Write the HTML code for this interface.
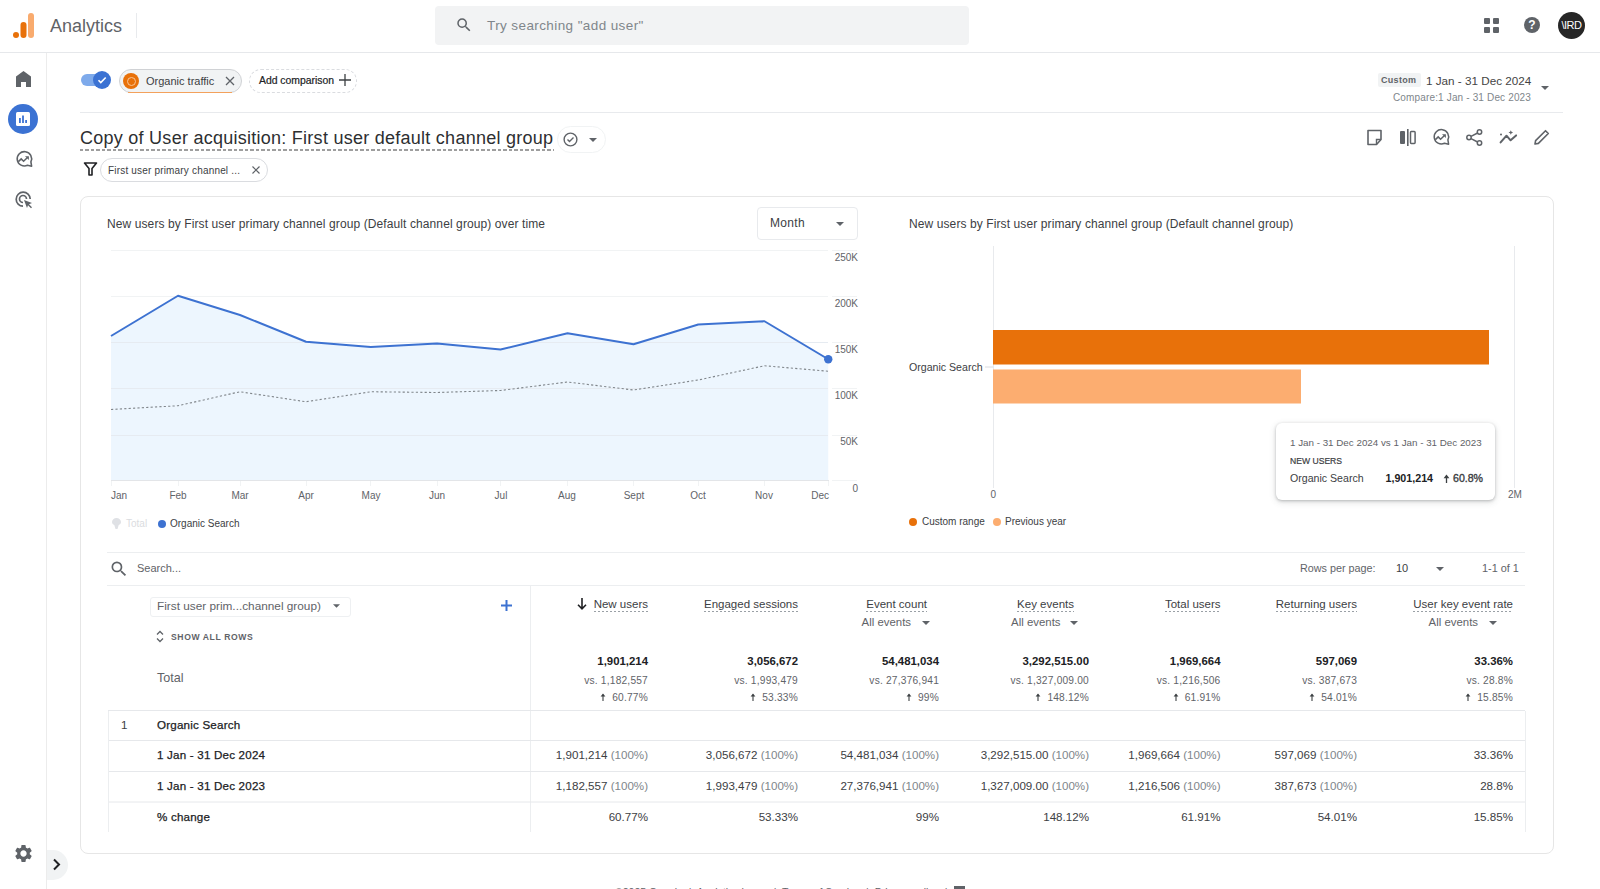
<!DOCTYPE html>
<html><head><meta charset="utf-8">
<style>
*{box-sizing:border-box;margin:0;padding:0}
html,body{width:1600px;height:889px;overflow:hidden;background:#fff;font-family:"Liberation Sans",sans-serif;color:#202124}
.a{position:absolute;white-space:nowrap}
svg{position:absolute;overflow:visible}
.hdr{position:absolute;left:0;top:0;width:1600px;height:53px;border-bottom:1px solid #e6e8eb;background:#fff}
.side{position:absolute;left:0;top:53px;width:47px;height:836px;border-right:1px solid #ececec;background:#fff}
.card{position:absolute;left:80px;top:196px;width:1474px;height:658px;border:1px solid #e6e6e6;border-radius:8px;background:#fff}
.r{text-align:right}
.g{color:#5f6368}
.ul{padding-bottom:2px;background:repeating-linear-gradient(90deg,#9aa0a6 0 2px,transparent 2px 4px) left bottom/100% 1px no-repeat}
</style></head><body>

<!-- HEADER -->
<div class="hdr">
  <svg style="left:12px;top:12px" width="24" height="27" viewBox="0 0 24 27">
    <rect x="1" y="20" width="6" height="6" rx="3" fill="#e8710a"/>
    <rect x="8.5" y="10" width="6" height="16" rx="3" fill="#e8710a"/>
    <rect x="16" y="1" width="6" height="25" rx="3" fill="#f9ab6e"/>
  </svg>
  <div class="a" style="left:50px;top:14.5px;font-size:18px;color:#5f6368;line-height:22px">Analytics</div>
  <div class="a" style="left:136px;top:13px;width:1px;height:25px;background:#e8eaed"></div>
  <div class="a" style="left:435px;top:6px;width:534px;height:39px;background:#f2f3f4;border-radius:4px"></div>
  <svg style="left:455px;top:16px" width="18" height="18" viewBox="0 0 24 24"><path fill="#5f6368" d="M15.5 14h-.79l-.28-.27A6.47 6.47 0 0 0 16 9.5 6.5 6.5 0 1 0 9.5 16c1.61 0 3.09-.59 4.23-1.57l.27.28v.79l5 4.99L20.49 19l-4.99-5zm-6 0C7.01 14 5 11.99 5 9.5S7.01 5 9.5 5 14 7.01 14 9.5 11.99 14 9.5 14z"/></svg>
  <div class="a" style="left:487px;top:18px;font-size:13.5px;color:#80868b;line-height:16px;letter-spacing:.4px">Try searching "add user"</div>
  <!-- apps -->
  <div class="a" style="left:1484px;top:18px;width:6px;height:6px;background:#5f6368;border-radius:1px"></div>
  <div class="a" style="left:1493px;top:18px;width:6px;height:6px;background:#5f6368;border-radius:1px"></div>
  <div class="a" style="left:1484px;top:27px;width:6px;height:6px;background:#5f6368;border-radius:1px"></div>
  <div class="a" style="left:1493px;top:27px;width:6px;height:6px;background:#5f6368;border-radius:1px"></div>
  <div class="a" style="left:1524px;top:17px;width:16px;height:16px;border-radius:50%;background:#5f6368;color:#fff;font-size:12px;font-weight:bold;text-align:center;line-height:16px">?</div>
  <div class="a" style="left:1558px;top:12px;width:27px;height:27px;border-radius:50%;background:#262626;color:#fff;font-size:11px;text-align:center;line-height:27px;letter-spacing:-0.5px">\IRD</div>
</div>

<!-- SIDEBAR -->
<div class="side"></div>
<svg style="left:16px;top:71px" width="15" height="16" viewBox="0 0 15 16"><path fill="#5f6368" d="M7.5 0 0 5.6V16h5v-5h5v5h5V5.6z"/></svg>
<div class="a" style="left:8px;top:104px;width:30px;height:30px;border-radius:50%;background:#3b72d3"></div>
<svg style="left:16px;top:112px" width="14" height="14" viewBox="0 0 14 14"><rect x="0" y="0" width="14" height="14" rx="1.5" fill="#fff"/><rect x="3" y="6" width="1.8" height="5" fill="#3b72d3"/><rect x="6.1" y="3.5" width="1.8" height="7.5" fill="#3b72d3"/><rect x="9.2" y="8" width="1.8" height="3" fill="#3b72d3"/></svg>
<svg style="left:14.5px;top:151px" width="18" height="17" viewBox="0 0 18 17"><path d="M15.9 10.9A7.2 7.2 0 1 0 12.5 14.3L16.6 15.2z" stroke-linejoin="round" fill="none" stroke="#5f6368" stroke-width="1.6"/><path d="M3.4 10.6L6.2 7.9 8.6 10.3 12.2 6.7" fill="none" stroke="#5f6368" stroke-width="1.5"/><path d="M10 5.2h3.9v3.9z" fill="#5f6368"/></svg>
<svg style="left:15px;top:191px" width="18" height="18" viewBox="0 0 18 18"><path d="M8 15.2A7 7 0 1 1 15.2 8" fill="none" stroke="#5f6368" stroke-width="1.7"/><path d="M8 11.5A3.5 3.5 0 1 1 11.5 8" fill="none" stroke="#5f6368" stroke-width="1.7"/><path d="M9 9l8 3-3 1.2 3 3-1 1-3-3L12 17z" fill="#5f6368"/></svg>
<svg style="left:12.5px;top:842.5px" width="21" height="21" viewBox="0 0 24 24"><path fill="#5f6368" d="M19.14 12.94c.04-.3.06-.61.06-.94 0-.32-.02-.64-.07-.94l2.03-1.58a.49.49 0 0 0 .12-.61l-1.92-3.32a.488.488 0 0 0-.59-.22l-2.39.96c-.5-.38-1.03-.7-1.62-.94l-.36-2.54a.484.484 0 0 0-.48-.41h-3.84c-.24 0-.43.17-.47.41l-.36 2.54c-.59.24-1.13.57-1.62.94l-2.39-.96c-.22-.08-.47 0-.59.22L2.74 8.87c-.12.21-.08.47.12.61l2.03 1.58c-.05.3-.09.63-.09.94s.02.64.07.94l-2.03 1.58a.49.49 0 0 0-.12.61l1.92 3.32c.12.22.37.29.59.22l2.39-.96c.5.38 1.03.7 1.62.94l.36 2.54c.05.24.24.41.48.41h3.84c.24 0 .44-.17.47-.41l.36-2.54c.59-.24 1.13-.56 1.62-.94l2.39.96c.22.08.47 0 .59-.22l1.92-3.32c.12-.22.07-.47-.12-.61l-2.01-1.58zM12 15.6c-1.98 0-3.6-1.62-3.6-3.6s1.62-3.6 3.6-3.6 3.6 1.62 3.6 3.6-1.62 3.6-3.6 3.6z"/></svg>
<div class="a" style="left:47px;top:850px;width:21px;height:30px;border-radius:0 15px 15px 0;background:#f1f3f4"></div>
<svg style="left:52px;top:858px" width="10" height="13" viewBox="0 0 10 13"><path d="M2 1.5l5 5-5 5" fill="none" stroke="#202124" stroke-width="2"/></svg>

<!-- COMPARISON BAR -->
<div class="a" style="left:81px;top:74px;width:22px;height:11.5px;border-radius:6px;background:#7eaaeb"></div>
<div class="a" style="left:93px;top:71px;width:18px;height:18px;border-radius:50%;background:#3b72d3"></div>
<svg style="left:97px;top:75px" width="10" height="10" viewBox="0 0 10 10"><path d="M1.5 5.2l2.3 2.3L8.7 2.5" fill="none" stroke="#fff" stroke-width="1.6"/></svg>

<div class="a" style="left:119px;top:69px;width:123px;height:24px;border-radius:12px;background:#f1f3f4;border:1px solid #d0d2d5"></div>
<div class="a" style="left:128px;top:91.7px;width:104px;height:1.3px;background:#f3a15c"></div>
<div class="a" style="left:123px;top:73px;width:16px;height:16px;border-radius:50%;background:#e8710a"></div>
<div class="a" style="left:126.5px;top:76.5px;width:9px;height:9px;border-radius:50%;border:1.8px solid #f8c598"></div>
<div class="a" style="left:146px;top:75px;font-size:11px;color:#3c4043;line-height:12px">Organic traffic</div>
<svg style="left:225px;top:76px" width="10" height="10" viewBox="0 0 10 10"><path d="M1 1l8 8M9 1L1 9" stroke="#5f6368" stroke-width="1.3"/></svg>

<div class="a" style="left:249px;top:69px;width:108px;height:24px;border-radius:12px;border:1px dashed #dadce0"></div>
<div class="a" style="left:259px;top:75px;font-size:10.4px;color:#202124;line-height:12px;-webkit-text-stroke:.2px #202124">Add comparison</div>
<svg style="left:339px;top:74px" width="12" height="12" viewBox="0 0 12 12"><path d="M6 0v12M0 6h12" stroke="#3c4043" stroke-width="1.3"/></svg>

<div class="a" style="left:1378px;top:73px;width:43px;height:14px;background:#f1f3f4;border-radius:2px"></div>
<div class="a" style="left:1381px;top:75px;font-size:9px;font-weight:bold;color:#5f6368;line-height:10px;letter-spacing:.3px">Custom</div>
<div class="a" style="left:1426px;top:73.5px;font-size:11.7px;color:#444;line-height:14px">1 Jan - 31 Dec 2024</div>
<div class="a" style="left:1393px;top:92px;font-size:10px;color:#80868b;line-height:12px;letter-spacing:.15px">Compare:1 Jan - 31 Dec 2023</div>
<svg style="left:1541px;top:86px" width="8" height="4" viewBox="0 0 8 4"><path d="M0 0h8L4 4z" fill="#5f6368"/></svg>
<div class="a" style="left:80px;top:112px;width:1483px;height:1px;background:#e8eaed"></div>

<!-- TITLE -->
<div class="a" style="left:80px;top:128px;font-size:18px;letter-spacing:.26px;color:#2d2f31;line-height:20px">Copy of User acquisition: First user default channel group</div>
<div class="a" style="left:80px;top:149px;width:474px;height:2px;background:repeating-linear-gradient(90deg,#9e9e9e 0 3.5px,transparent 3.5px 5.5px)"></div>
<div class="a" style="left:557px;top:126px;width:49px;height:27px;border-radius:14px;border:1px solid #f1f3f4"></div>
<svg style="left:563px;top:132px" width="15" height="15" viewBox="0 0 15 15"><circle cx="7.5" cy="7.5" r="6.4" fill="none" stroke="#5f6368" stroke-width="1.4"/><path d="M4.5 7.6l2 2 4-4" fill="none" stroke="#5f6368" stroke-width="1.4"/></svg>
<svg style="left:589px;top:138px" width="8" height="4" viewBox="0 0 8 4"><path d="M0 0h8L4 4z" fill="#5f6368"/></svg>

<!-- title right icons -->
<svg style="left:1366px;top:129px" width="17" height="17" viewBox="0 0 17 17"><path d="M2 1.5h13v9l-4.5 5H2z" fill="none" stroke="#5f6368" stroke-width="1.6" stroke-linejoin="round"/><path d="M10.5 15.5v-5h4.5" fill="none" stroke="#5f6368" stroke-width="1.4"/></svg>
<svg style="left:1399px;top:129px" width="18" height="17" viewBox="0 0 18 17"><rect x="1" y="2" width="5" height="13" rx="1" fill="#5f6368"/><rect x="8" y="0" width="1.6" height="17" fill="#5f6368"/><rect x="11.5" y="2.6" width="4.6" height="11.8" rx=".8" fill="none" stroke="#5f6368" stroke-width="1.5"/></svg>
<svg style="left:1432px;top:129px" width="18" height="17" viewBox="0 0 18 17"><path d="M15.9 10.9A7.2 7.2 0 1 0 12.5 14.3L16.6 15.2z" stroke-linejoin="round" fill="none" stroke="#5f6368" stroke-width="1.5"/><path d="M3.4 10.6L6.2 7.9 8.6 10.3 12.2 6.7" fill="none" stroke="#5f6368" stroke-width="1.5"/><path d="M10 5.2h3.9v3.9z" fill="#5f6368"/></svg>
<svg style="left:1466px;top:129px" width="17" height="17" viewBox="0 0 17 17"><circle cx="13.5" cy="3" r="2.2" fill="none" stroke="#5f6368" stroke-width="1.5"/><circle cx="3" cy="8.5" r="2.2" fill="none" stroke="#5f6368" stroke-width="1.5"/><circle cx="13.5" cy="14" r="2.2" fill="none" stroke="#5f6368" stroke-width="1.5"/><path d="M5 7.3l6.6-3.3M5 9.7l6.6 3.3" stroke="#5f6368" stroke-width="1.5"/></svg>
<svg style="left:1499px;top:129px" width="19" height="17" viewBox="0 0 19 17"><path d="M1.6 13.4L7.5 6.7 11.6 11.3 17.1 6.4" fill="none" stroke="#5f6368" stroke-width="2" stroke-linecap="round" stroke-linejoin="round"/><path d="M11.8 1.2l.7 1.6 1.6.7-1.6.7-.7 1.6-.7-1.6-1.6-.7 1.6-.7z" fill="#5f6368"/><circle cx="2" cy="5.4" r="1" fill="#5f6368"/></svg>
<svg style="left:1533px;top:129px" width="17" height="17" viewBox="0 0 17 17"><path d="M2 15l.6-3.4L12.5 1.7l2.8 2.8-9.9 9.9z" fill="none" stroke="#5f6368" stroke-width="1.6" stroke-linejoin="round"/></svg>

<!-- filter chip -->
<svg style="left:84px;top:162px" width="13" height="14" viewBox="0 0 13 14"><path d="M.5 1h12L8 6.5V13H5V6.5z" fill="none" stroke="#202124" stroke-width="1.6" stroke-linejoin="round"/></svg>
<div class="a" style="left:100px;top:158px;width:168px;height:24px;border-radius:12px;border:1px solid #dadce0"></div>
<div class="a" style="left:108px;top:164.5px;font-size:10px;color:#3c4043;line-height:11px;letter-spacing:.18px">First user primary channel ...</div>
<svg style="left:252px;top:166px" width="8" height="8" viewBox="0 0 8 8"><path d="M.5.5l7 7M7.5.5l-7 7" stroke="#5f6368" stroke-width="1.2"/></svg>

<!-- CARD -->
<div class="card"></div>

<!-- LINE CHART -->
<div class="a" style="left:107px;top:217px;font-size:12px;color:#3c4043;line-height:14px;letter-spacing:.1px">New users by First user primary channel group (Default channel group) over time</div>
<div class="a" style="left:757px;top:207px;width:101px;height:33px;border:1px solid #e8eaed;border-radius:4px"></div>
<div class="a" style="left:770px;top:216px;font-size:12px;color:#3c4043;line-height:14px;letter-spacing:.3px">Month</div>
<svg style="left:836px;top:222px" width="8" height="4" viewBox="0 0 8 4"><path d="M0 0h8L4 4z" fill="#5f6368"/></svg>

<svg style="left:0;top:0" width="1600" height="889" viewBox="0 0 1600 889">
  <g stroke="#f1f3f4" stroke-width="1">
    <path d="M111 250.5H828M111 296.5H828M111 342.5H828M111 388.5H828M111 435.5H828M832 250.5H857M832 296.5H857M832 342.5H857M832 388.5H857M832 435.5H857M832 480.5H857"/>
  </g>
  <path d="M111,481 L111,336 L178,295.75 L240,315 L306,341.75 L370.75,347 L437,343.5 L500.5,349.5 L567.5,333.25 L633.5,344.25 L698.25,324.5 L764.5,321.25 L828.25,359.25 L828.25,481 Z" fill="#edf6fe"/>
  <g stroke="#e6ebf1" stroke-width="1"><path d="M111 342.5H828M111 388.5H828M111 435.5H828"/></g>
  <path d="M111 480.5H829" stroke="#e3e5e8" stroke-width="1"/>
  <g stroke="#f1f3f4" stroke-width="1"><path d="M111.5 481v5M178.5 481v5M240.5 481v5M306.5 481v5M370.5 481v5M437.5 481v5M500.5 481v5M567.5 481v5M633.5 481v5M698.5 481v5M764.5 481v5M828.5 481v5"/></g>
  <polyline points="111,409.5 178,405.75 240,391.75 306,401.75 370.75,391.75 437,392.5 500.5,390.5 567.5,382 633.5,390 698.25,380 764.5,365.75 828.25,371.25" fill="none" stroke="#80868b" stroke-width="1.1" stroke-dasharray="2.2 2.2"/>
  <polyline points="111,336 178,295.75 240,315 306,341.75 370.75,347 437,343.5 500.5,349.5 567.5,333.25 633.5,344.25 698.25,324.5 764.5,321.25 828.25,359.25" fill="none" stroke="#3d72d1" stroke-width="2" stroke-linejoin="round"/>
  <circle cx="828.25" cy="359.25" r="4.2" fill="#3d72d1"/>
  <!-- bar chart -->
  <path d="M993.5 246V488M1514.5 246V488" stroke="#e8eaed" stroke-width="1"/>
  <path d="M985 367H993" stroke="#dadce0" stroke-width="1"/>
  <rect x="993" y="330" width="496" height="34.5" fill="#e8710a"/>
  <rect x="993" y="369.5" width="308" height="34" fill="#fcad70"/>
  <path d="M107 552.5H1525M107 585.5H1525" stroke="#eceef0" stroke-width="1"/>
</svg>
<div class="a r" style="left:820px;top:252.3px;width:38px;font-size:10px;color:#5f6368;line-height:12px">250K</div>
<div class="a r" style="left:820px;top:298.3px;width:38px;font-size:10px;color:#5f6368;line-height:12px">200K</div>
<div class="a r" style="left:820px;top:344.3px;width:38px;font-size:10px;color:#5f6368;line-height:12px">150K</div>
<div class="a r" style="left:820px;top:390.3px;width:38px;font-size:10px;color:#5f6368;line-height:12px">100K</div>
<div class="a r" style="left:820px;top:436.3px;width:38px;font-size:10px;color:#5f6368;line-height:12px">50K</div>
<div class="a r" style="left:820px;top:482.5px;width:38px;font-size:10px;color:#5f6368;line-height:12px">0</div>
<div class="a" style="left:111px;top:490px;font-size:10px;color:#5f6368;line-height:12px">Jan</div>
<div class="a" style="left:158px;top:490px;width:40px;text-align:center;font-size:10px;color:#5f6368;line-height:12px">Feb</div>
<div class="a" style="left:220px;top:490px;width:40px;text-align:center;font-size:10px;color:#5f6368;line-height:12px">Mar</div>
<div class="a" style="left:286px;top:490px;width:40px;text-align:center;font-size:10px;color:#5f6368;line-height:12px">Apr</div>
<div class="a" style="left:351px;top:490px;width:40px;text-align:center;font-size:10px;color:#5f6368;line-height:12px">May</div>
<div class="a" style="left:417px;top:490px;width:40px;text-align:center;font-size:10px;color:#5f6368;line-height:12px">Jun</div>
<div class="a" style="left:481px;top:490px;width:40px;text-align:center;font-size:10px;color:#5f6368;line-height:12px">Jul</div>
<div class="a" style="left:547px;top:490px;width:40px;text-align:center;font-size:10px;color:#5f6368;line-height:12px">Aug</div>
<div class="a" style="left:614px;top:490px;width:40px;text-align:center;font-size:10px;color:#5f6368;line-height:12px">Sept</div>
<div class="a" style="left:678px;top:490px;width:40px;text-align:center;font-size:10px;color:#5f6368;line-height:12px">Oct</div>
<div class="a" style="left:744px;top:490px;width:40px;text-align:center;font-size:10px;color:#5f6368;line-height:12px">Nov</div>
<div class="a r" style="left:789px;top:490px;width:40px;font-size:10px;color:#5f6368;line-height:12px">Dec</div>
<!-- legend -->
<svg style="left:111px;top:518px" width="11" height="11" viewBox="0 0 11 11"><path d="M5.5 0C3 0 1 1.8 1 4c0 1.5 1 2.6 2.3 3.1L4.5 11h2l1.2-3.9C9 6.6 10 5.5 10 4 10 1.8 8 0 5.5 0z" fill="#dfe1e5"/></svg>
<div class="a" style="left:126px;top:518px;font-size:10px;color:#dadce0;line-height:12px">Total</div>
<div class="a" style="left:158px;top:519.5px;width:8px;height:8px;border-radius:50%;background:#3d72d1"></div>
<div class="a" style="left:170px;top:518px;font-size:10px;color:#3c4043;line-height:12px">Organic Search</div>

<!-- BAR CHART texts -->
<div class="a" style="left:909px;top:217px;font-size:12px;color:#3c4043;line-height:14px;letter-spacing:.1px">New users by First user primary channel group (Default channel group)</div>
<div class="a" style="left:909px;top:360.5px;font-size:10.6px;color:#3c4043;line-height:12px">Organic Search</div>
<div class="a" style="left:990.5px;top:489px;font-size:10px;color:#5f6368;line-height:12px">0</div>
<div class="a" style="left:1508px;top:489px;font-size:10px;color:#5f6368;line-height:12px">2M</div>
<div class="a" style="left:909px;top:518px;width:8px;height:8px;border-radius:50%;background:#e8710a"></div>
<div class="a" style="left:922px;top:516px;font-size:10px;color:#3c4043;line-height:12px">Custom range</div>
<div class="a" style="left:993px;top:518px;width:8px;height:8px;border-radius:50%;background:#fcad70"></div>
<div class="a" style="left:1005px;top:516px;font-size:10px;color:#3c4043;line-height:12px">Previous year</div>
<!-- tooltip -->
<div class="a" style="left:1276px;top:423px;width:219px;height:77px;background:#fff;border-radius:6px;box-shadow:0 1px 3px rgba(60,64,67,.3),0 2px 6px 1px rgba(60,64,67,.12)"></div>
<div class="a" style="left:1290px;top:437px;font-size:9.8px;color:#5f6368;line-height:11px">1 Jan - 31 Dec 2024 vs 1 Jan - 31 Dec 2023</div>
<div class="a" style="left:1290px;top:456px;font-size:8.6px;color:#3c4043;line-height:10px;-webkit-text-stroke:.2px #3c4043">NEW USERS</div>
<div class="a" style="left:1290px;top:472px;font-size:10.6px;color:#3c4043;line-height:12px">Organic Search</div>
<div class="a" style="left:1385.5px;top:472px;font-size:10.7px;font-weight:bold;color:#202124;line-height:12px">1,901,214</div>
<svg style="left:1443px;top:473.5px" width="7" height="9" viewBox="0 0 7 9"><path d="M3.5 9V1.8" stroke="#3c4043" stroke-width="1.3"/><path d="M.6 4.2L3.5.6l2.9 3.6z" fill="#3c4043"/></svg>
<div class="a" style="left:1453px;top:472px;font-size:10.6px;color:#3c4043;line-height:12px;letter-spacing:0px;-webkit-text-stroke:.35px #3c4043">60.8%</div>

<!-- TABLE -->
<svg style="left:108.5px;top:558.5px" width="20" height="20" viewBox="0 0 24 24"><path fill="#5f6368" d="M15.5 14h-.79l-.28-.27A6.47 6.47 0 0 0 16 9.5 6.5 6.5 0 1 0 9.5 16c1.61 0 3.09-.59 4.23-1.57l.27.28v.79l5 4.99L20.49 19l-4.99-5zm-6 0C7.01 14 5 11.99 5 9.5S7.01 5 9.5 5 14 7.01 14 9.5 11.99 14 9.5 14z"/></svg>
<div class="a" style="left:137px;top:562px;font-size:11px;color:#5f6368;line-height:13px">Search...</div>
<div class="a" style="left:1300px;top:562px;font-size:10.8px;color:#5f6368;line-height:13px">Rows per page:</div>
<div class="a" style="left:1396px;top:562px;font-size:11px;color:#3c4043;line-height:13px">10</div>
<svg style="left:1436px;top:567px" width="8" height="4" viewBox="0 0 8 4"><path d="M0 0h8L4 4z" fill="#5f6368"/></svg>
<div class="a" style="left:1482px;top:562px;font-size:10.9px;color:#5f6368;line-height:13px">1-1 of 1</div>

<div class="a" style="left:149.5px;top:596.5px;width:201px;height:20px;border:1px solid #eef0f2;border-radius:3px"></div>
<div class="a" style="left:157px;top:599px;font-size:11.8px;color:#5f6368;line-height:14px">First user prim...channel group)</div>
<svg style="left:333px;top:604px" width="7" height="4" viewBox="0 0 8 4"><path d="M0 0h8L4 4z" fill="#5f6368"/></svg>
<svg style="left:501px;top:600px" width="11" height="11" viewBox="0 0 11 11"><path d="M5.5 0v11M0 5.5h11" stroke="#3d72d1" stroke-width="2"/></svg>
<svg style="left:156px;top:630px" width="8" height="13" viewBox="0 0 8 13"><path d="M1 4.5L4 1.5l3 3M1 8.5l3 3 3-3" fill="none" stroke="#5f6368" stroke-width="1.3"/></svg>
<div class="a" style="left:171px;top:632px;font-size:8.6px;font-weight:bold;color:#5f6368;line-height:10px;letter-spacing:.6px">SHOW ALL ROWS</div>
<div class="a" style="left:157px;top:671px;font-size:12.6px;color:#5f6368;line-height:14px">Total</div>

<!-- TABLE BODY -->
<div class="a r" style="left:488px;top:597px;width:160px;font-size:11.5px;color:#3c4043;line-height:14px"><span class="ul">New users</span></div>
<div class="a r" style="left:488px;top:654px;width:160px;font-size:11.4px;font-weight:bold;color:#202124;line-height:14px">1,901,214</div>
<div class="a r" style="left:488px;top:674.5px;width:160px;font-size:10.2px;color:#5f6368;line-height:12px;letter-spacing:.2px">vs. 1,182,557</div>
<div class="a r" style="left:488px;top:691.5px;width:160px;font-size:10.2px;color:#5f6368;line-height:12px;letter-spacing:.2px"><svg style="position:relative;display:inline-block;vertical-align:0px;margin-right:6px" width="6" height="8" viewBox="0 0 6 8"><path d="M3 8V1.5" stroke="#3c4043" stroke-width="1.1"/><path d="M.6 3.4L3 .4l2.4 3z" fill="#3c4043"/></svg>60.77%</div>
<div class="a r" style="left:488px;top:748px;width:160px;font-size:11.6px;color:#3c4043;line-height:14px">1,901,214 <span style="color:#80868b">(100%)</span></div>
<div class="a r" style="left:488px;top:779px;width:160px;font-size:11.6px;color:#3c4043;line-height:14px">1,182,557 <span style="color:#80868b">(100%)</span></div>
<div class="a r" style="left:488px;top:810px;width:160px;font-size:11.6px;color:#3c4043;line-height:14px">60.77%</div>
<div class="a r" style="left:638px;top:597px;width:160px;font-size:11.5px;color:#3c4043;line-height:14px"><span class="ul">Engaged sessions</span></div>
<div class="a r" style="left:638px;top:654px;width:160px;font-size:11.4px;font-weight:bold;color:#202124;line-height:14px">3,056,672</div>
<div class="a r" style="left:638px;top:674.5px;width:160px;font-size:10.2px;color:#5f6368;line-height:12px;letter-spacing:.2px">vs. 1,993,479</div>
<div class="a r" style="left:638px;top:691.5px;width:160px;font-size:10.2px;color:#5f6368;line-height:12px;letter-spacing:.2px"><svg style="position:relative;display:inline-block;vertical-align:0px;margin-right:6px" width="6" height="8" viewBox="0 0 6 8"><path d="M3 8V1.5" stroke="#3c4043" stroke-width="1.1"/><path d="M.6 3.4L3 .4l2.4 3z" fill="#3c4043"/></svg>53.33%</div>
<div class="a r" style="left:638px;top:748px;width:160px;font-size:11.6px;color:#3c4043;line-height:14px">3,056,672 <span style="color:#80868b">(100%)</span></div>
<div class="a r" style="left:638px;top:779px;width:160px;font-size:11.6px;color:#3c4043;line-height:14px">1,993,479 <span style="color:#80868b">(100%)</span></div>
<div class="a r" style="left:638px;top:810px;width:160px;font-size:11.6px;color:#3c4043;line-height:14px">53.33%</div>
<div class="a r" style="left:767px;top:597px;width:160px;font-size:11.5px;color:#3c4043;line-height:14px"><span class="ul">Event count</span></div>
<div class="a r" style="left:751px;top:615px;width:160px;font-size:11.4px;color:#5f6368;line-height:14px">All events</div>
<svg style="left:921.6px;top:620.5px" width="8" height="4" viewBox="0 0 8 4"><path d="M0 0h8L4 4z" fill="#5f6368"/></svg>
<div class="a r" style="left:779px;top:654px;width:160px;font-size:11.4px;font-weight:bold;color:#202124;line-height:14px">54,481,034</div>
<div class="a r" style="left:779px;top:674.5px;width:160px;font-size:10.2px;color:#5f6368;line-height:12px;letter-spacing:.2px">vs. 27,376,941</div>
<div class="a r" style="left:779px;top:691.5px;width:160px;font-size:10.2px;color:#5f6368;line-height:12px;letter-spacing:.2px"><svg style="position:relative;display:inline-block;vertical-align:0px;margin-right:6px" width="6" height="8" viewBox="0 0 6 8"><path d="M3 8V1.5" stroke="#3c4043" stroke-width="1.1"/><path d="M.6 3.4L3 .4l2.4 3z" fill="#3c4043"/></svg>99%</div>
<div class="a r" style="left:779px;top:748px;width:160px;font-size:11.6px;color:#3c4043;line-height:14px">54,481,034 <span style="color:#80868b">(100%)</span></div>
<div class="a r" style="left:779px;top:779px;width:160px;font-size:11.6px;color:#3c4043;line-height:14px">27,376,941 <span style="color:#80868b">(100%)</span></div>
<div class="a r" style="left:779px;top:810px;width:160px;font-size:11.6px;color:#3c4043;line-height:14px">99%</div>
<div class="a r" style="left:914px;top:597px;width:160px;font-size:11.5px;color:#3c4043;line-height:14px"><span class="ul">Key events</span></div>
<div class="a r" style="left:900.5px;top:615px;width:160px;font-size:11.4px;color:#5f6368;line-height:14px">All events</div>
<svg style="left:1070px;top:620.5px" width="8" height="4" viewBox="0 0 8 4"><path d="M0 0h8L4 4z" fill="#5f6368"/></svg>
<div class="a r" style="left:929px;top:654px;width:160px;font-size:11.4px;font-weight:bold;color:#202124;line-height:14px">3,292,515.00</div>
<div class="a r" style="left:929px;top:674.5px;width:160px;font-size:10.2px;color:#5f6368;line-height:12px;letter-spacing:.2px">vs. 1,327,009.00</div>
<div class="a r" style="left:929px;top:691.5px;width:160px;font-size:10.2px;color:#5f6368;line-height:12px;letter-spacing:.2px"><svg style="position:relative;display:inline-block;vertical-align:0px;margin-right:6px" width="6" height="8" viewBox="0 0 6 8"><path d="M3 8V1.5" stroke="#3c4043" stroke-width="1.1"/><path d="M.6 3.4L3 .4l2.4 3z" fill="#3c4043"/></svg>148.12%</div>
<div class="a r" style="left:929px;top:748px;width:160px;font-size:11.6px;color:#3c4043;line-height:14px">3,292,515.00 <span style="color:#80868b">(100%)</span></div>
<div class="a r" style="left:929px;top:779px;width:160px;font-size:11.6px;color:#3c4043;line-height:14px">1,327,009.00 <span style="color:#80868b">(100%)</span></div>
<div class="a r" style="left:929px;top:810px;width:160px;font-size:11.6px;color:#3c4043;line-height:14px">148.12%</div>
<div class="a r" style="left:1060.5px;top:597px;width:160px;font-size:11.5px;color:#3c4043;line-height:14px"><span class="ul">Total users</span></div>
<div class="a r" style="left:1060.5px;top:654px;width:160px;font-size:11.4px;font-weight:bold;color:#202124;line-height:14px">1,969,664</div>
<div class="a r" style="left:1060.5px;top:674.5px;width:160px;font-size:10.2px;color:#5f6368;line-height:12px;letter-spacing:.2px">vs. 1,216,506</div>
<div class="a r" style="left:1060.5px;top:691.5px;width:160px;font-size:10.2px;color:#5f6368;line-height:12px;letter-spacing:.2px"><svg style="position:relative;display:inline-block;vertical-align:0px;margin-right:6px" width="6" height="8" viewBox="0 0 6 8"><path d="M3 8V1.5" stroke="#3c4043" stroke-width="1.1"/><path d="M.6 3.4L3 .4l2.4 3z" fill="#3c4043"/></svg>61.91%</div>
<div class="a r" style="left:1060.5px;top:748px;width:160px;font-size:11.6px;color:#3c4043;line-height:14px">1,969,664 <span style="color:#80868b">(100%)</span></div>
<div class="a r" style="left:1060.5px;top:779px;width:160px;font-size:11.6px;color:#3c4043;line-height:14px">1,216,506 <span style="color:#80868b">(100%)</span></div>
<div class="a r" style="left:1060.5px;top:810px;width:160px;font-size:11.6px;color:#3c4043;line-height:14px">61.91%</div>
<div class="a r" style="left:1197px;top:597px;width:160px;font-size:11.5px;color:#3c4043;line-height:14px"><span class="ul">Returning users</span></div>
<div class="a r" style="left:1197px;top:654px;width:160px;font-size:11.4px;font-weight:bold;color:#202124;line-height:14px">597,069</div>
<div class="a r" style="left:1197px;top:674.5px;width:160px;font-size:10.2px;color:#5f6368;line-height:12px;letter-spacing:.2px">vs. 387,673</div>
<div class="a r" style="left:1197px;top:691.5px;width:160px;font-size:10.2px;color:#5f6368;line-height:12px;letter-spacing:.2px"><svg style="position:relative;display:inline-block;vertical-align:0px;margin-right:6px" width="6" height="8" viewBox="0 0 6 8"><path d="M3 8V1.5" stroke="#3c4043" stroke-width="1.1"/><path d="M.6 3.4L3 .4l2.4 3z" fill="#3c4043"/></svg>54.01%</div>
<div class="a r" style="left:1197px;top:748px;width:160px;font-size:11.6px;color:#3c4043;line-height:14px">597,069 <span style="color:#80868b">(100%)</span></div>
<div class="a r" style="left:1197px;top:779px;width:160px;font-size:11.6px;color:#3c4043;line-height:14px">387,673 <span style="color:#80868b">(100%)</span></div>
<div class="a r" style="left:1197px;top:810px;width:160px;font-size:11.6px;color:#3c4043;line-height:14px">54.01%</div>
<div class="a r" style="left:1353px;top:597px;width:160px;font-size:11.5px;color:#3c4043;line-height:14px"><span class="ul">User key event rate</span></div>
<div class="a r" style="left:1318px;top:615px;width:160px;font-size:11.4px;color:#5f6368;line-height:14px">All events</div>
<svg style="left:1488.5px;top:620.5px" width="8" height="4" viewBox="0 0 8 4"><path d="M0 0h8L4 4z" fill="#5f6368"/></svg>
<div class="a r" style="left:1353px;top:654px;width:160px;font-size:11.4px;font-weight:bold;color:#202124;line-height:14px">33.36%</div>
<div class="a r" style="left:1353px;top:674.5px;width:160px;font-size:10.2px;color:#5f6368;line-height:12px;letter-spacing:.2px">vs. 28.8%</div>
<div class="a r" style="left:1353px;top:691.5px;width:160px;font-size:10.2px;color:#5f6368;line-height:12px;letter-spacing:.2px"><svg style="position:relative;display:inline-block;vertical-align:0px;margin-right:6px" width="6" height="8" viewBox="0 0 6 8"><path d="M3 8V1.5" stroke="#3c4043" stroke-width="1.1"/><path d="M.6 3.4L3 .4l2.4 3z" fill="#3c4043"/></svg>15.85%</div>
<div class="a r" style="left:1353px;top:748px;width:160px;font-size:11.6px;color:#3c4043;line-height:14px">33.36%</div>
<div class="a r" style="left:1353px;top:779px;width:160px;font-size:11.6px;color:#3c4043;line-height:14px">28.8%</div>
<div class="a r" style="left:1353px;top:810px;width:160px;font-size:11.6px;color:#3c4043;line-height:14px">15.85%</div>
<svg style="left:577px;top:598px" width="10" height="12" viewBox="0 0 10 12"><path d="M5 0v10.5M1 6.8l4 4 4-4" fill="none" stroke="#202124" stroke-width="1.6"/></svg>
<svg style="left:0;top:0" width="1600" height="889" viewBox="0 0 1600 889">
<path d="M530.5 586V832" stroke="#eceef0" stroke-width="1"/>
<path d="M108 710.5H1525M108 740.5H1525M108 771.5H1525M108 802H1525" stroke="#e6e8eb" stroke-width="1"/>
<path d="M108.5 711V832M1525.5 711V832" stroke="#eceef0" stroke-width="1"/>
</svg>
<div class="a" style="left:121px;top:718px;font-size:11.6px;color:#3c4043;line-height:14px">1</div>
<div class="a" style="left:157px;top:718px;font-size:11.6px;color:#202124;line-height:14px;letter-spacing:.2px;-webkit-text-stroke:.25px #202124">Organic Search</div>
<div class="a" style="left:157px;top:748px;font-size:11.6px;color:#202124;line-height:14px;letter-spacing:.2px;-webkit-text-stroke:.25px #202124">1 Jan - 31 Dec 2024</div>
<div class="a" style="left:157px;top:779px;font-size:11.6px;color:#202124;line-height:14px;letter-spacing:.2px;-webkit-text-stroke:.25px #202124">1 Jan - 31 Dec 2023</div>
<div class="a" style="left:157px;top:810px;font-size:11.6px;color:#202124;line-height:14px;letter-spacing:.2px;-webkit-text-stroke:.25px #202124">% change</div>
<div class="a" style="left:615px;top:886px;font-size:10.5px;color:#5f6368;line-height:13px">©2025 Google&nbsp; |&nbsp; Analytics home&nbsp; |&nbsp; Terms of Service&nbsp; |&nbsp; Privacy policy&nbsp; |&nbsp;<span style="display:inline-block;width:11px;height:11px;background:#5f6368;vertical-align:-1px;margin-left:4px"></span></div>
</body></html>
